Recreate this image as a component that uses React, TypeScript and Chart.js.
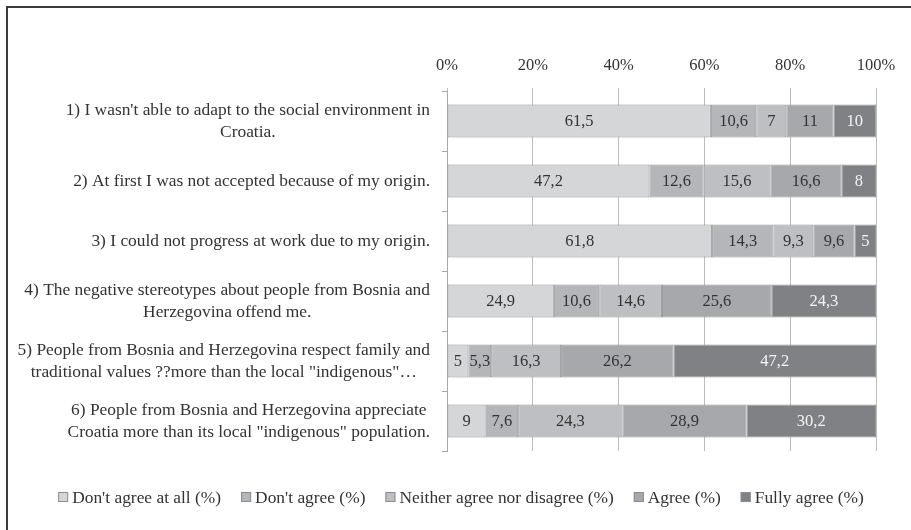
import React, { useEffect, useRef } from "react";
import { Chart, registerables } from "chart.js";

Chart.register(...registerables);

// ---------- data ----------
const categories: string[][] = [
  ["1) I wasn't able to adapt to the social environment in", "Croatia."],
  ["2) At first I was not accepted because of my origin."],
  ["3) I could not progress at work due to my origin."],
  ["4) The negative stereotypes about people from Bosnia and", "Herzegovina offend me."],
  ["5) People from Bosnia and Herzegovina respect family and", "traditional values ??more than the local \"indigenous\"\u2026"],
  ["6) People from Bosnia and Herzegovina appreciate", "Croatia more than its local \"indigenous\" population."],
];

const seriesNames = [
  "Don't agree at all (%)",
  "Don't agree (%)",
  "Neither agree nor disagree (%)",
  "Agree (%)",
  "Fully agree (%)",
];

const dontAgreeAtAll = [61.5, 47.2, 61.8, 24.9, 5, 9];
const dontAgree = [10.6, 12.6, 14.3, 10.6, 5.3, 7.6];
const neitherAgree = [7, 15.6, 9.3, 14.6, 16.3, 24.3];
const agree = [11, 16.6, 9.6, 25.6, 26.2, 28.9];
const fullyAgree = [10, 8, 5, 24.3, 47.2, 30.2];

const seriesValues = [dontAgreeAtAll, dontAgree, neitherAgree, agree, fullyAgree];

const xTickMin = 0;
const xTickMax = 100;
const xTickStep = 20;

// ---------- styles ----------
const seriesColors = ["#d5d6d8", "#b5b6b9", "#bebfc2", "#a7a8ab", "#808184"];
const labelColors = ["#333333", "#333333", "#333333", "#333333", "#f4f4f4"];
const FONT = "'Liberation Serif', 'DejaVu Serif', serif";
const TEXT = "#333333";

const fmt = (v: number) => String(v).replace(".", ",");

const yLabelPlugin = {
  id: "yLabels",
  afterDraw(chart: any) {
    const ctx = chart.ctx;
    const yScale = chart.scales.y;
    const rightEdge = 430;
    const lineH = 22;
    ctx.save();
    ctx.font = `17.4px ${FONT}`;
    ctx.fillStyle = TEXT;
    ctx.textAlign = "center";
    ctx.textBaseline = "middle";
    categories.forEach((lines, i) => {
      const cy = yScale.getPixelForValue(i);
      const maxW = Math.max(...lines.map((l) => ctx.measureText(l).width));
      const cx = rightEdge - maxW / 2;
      const startY = cy - ((lines.length - 1) * lineH) / 2;
      lines.forEach((l, k) => ctx.fillText(l, cx, startY + k * lineH));
    });
    ctx.restore();
  },
};

const dataLabelPlugin = {
  id: "dataLabels",
  afterDatasetsDraw(chart: any) {
    const ctx = chart.ctx;
    ctx.save();
    ctx.font = `16.5px ${FONT}`;
    ctx.textAlign = "center";
    ctx.textBaseline = "middle";
    chart.data.datasets.forEach((ds: any, di: number) => {
      const meta = chart.getDatasetMeta(di);
      meta.data.forEach((el: any, i: number) => {
        const v = ds.data[i];
        const right = Math.min(el.x, chart.chartArea.right);
        const cx = (right + el.base) / 2;
        ctx.fillStyle = labelColors[di];
        ctx.fillText(fmt(v), cx, el.y + 1);
      });
    });
    ctx.restore();
  },
};

const legendPlugin = {
  id: "customLegend",
  afterDraw(chart: any) {
    const ctx = chart.ctx;
    const centerX = 461;
    const y = 497;
    const box = 10;
    const gap = 4;
    const spacing = 20;
    ctx.save();
    ctx.font = `17.4px ${FONT}`;
    ctx.textBaseline = "middle";
    ctx.textAlign = "left";
    const items = chart.data.datasets.map((ds: any) => ({
      text: ds.label,
      color: ds.backgroundColor,
      w: ctx.measureText(ds.label).width,
    }));
    const total =
      items.reduce((s: number, it: any) => s + box + gap + it.w, 0) + spacing * (items.length - 1);
    let x = centerX - total / 2;
    items.forEach((it: any) => {
      ctx.fillStyle = it.color;
      ctx.fillRect(x, y - box / 2, box, box);
      ctx.strokeStyle = "#8c8d90";
      ctx.lineWidth = 1;
      ctx.strokeRect(x + 0.5, y - box / 2 + 0.5, box - 1, box - 1);
      ctx.fillStyle = TEXT;
      ctx.fillText(it.text, x + box + gap, y + 1);
      x += box + gap + it.w + spacing;
    });
    ctx.restore();
  },
};

export default function App() {
  const canvasRef = useRef<HTMLCanvasElement | null>(null);

  useEffect(() => {
    if (!canvasRef.current) return;
    Chart.defaults.font.family = FONT;
    Chart.defaults.color = TEXT;
    const chart = new Chart(canvasRef.current, {
      type: "bar",
      data: {
        labels: categories.map((c) => c.join(" ")),
        datasets: seriesNames.map((name, i) => ({
          label: name,
          data: seriesValues[i],
          backgroundColor: seriesColors[i],
          borderColor: "#929396",
          borderWidth: 1,
          borderSkipped: false,
          barPercentage: 0.55,
          categoryPercentage: 1,
        })),
      },
      options: {
        indexAxis: "y",
        animation: false,
        responsive: false,
        maintainAspectRatio: false,
        layout: { padding: { top: 0, right: 35, bottom: 79, left: 0 } },
        plugins: {
          legend: { display: false },
          tooltip: { enabled: false },
          title: { display: false },
        },
        scales: {
          x: {
            position: "top",
            stacked: true,
            min: xTickMin,
            max: xTickMax,
            ticks: {
              stepSize: xTickStep,
              padding: 12,
              font: { size: 16.5, family: FONT },
              color: TEXT,
              callback: (v: any) => `${v}%`,
            },
            grid: { color: "#bdbdbd", lineWidth: 1, tickLength: 3, drawTicks: true },
            border: { display: false },
            afterFit: (scale: any) => {
              scale.height = 91;
            },
          },
          y: {
            stacked: true,
            ticks: { display: false },
            grid: {
              drawOnChartArea: false,
              drawTicks: true,
              tickLength: 5,
              color: "#aaaaaa",
              offset: true,
            },
            border: { display: true, color: "#aaaaaa", width: 1 },
            afterFit: (scale: any) => {
              scale.width = 447;
            },
          },
        },
      },
      plugins: [yLabelPlugin, dataLabelPlugin, legendPlugin],
    });
    return () => chart.destroy();
  }, []);

  return (
    <div style={{ position: "fixed", left: 0, top: 0, width: 911, height: 530, overflow: "hidden", background: "#fff" }}>
      <div
        style={{
          position: "absolute",
          left: 6,
          top: 6,
          width: 940,
          height: 560,
          border: "2px solid #3c3c3c",
          boxSizing: "border-box",
        }}
      />
      <canvas
        ref={canvasRef}
        width={911}
        height={530}
        style={{ position: "absolute", left: 0, top: 0, width: 911, height: 530 }}
      />
    </div>
  );
}
